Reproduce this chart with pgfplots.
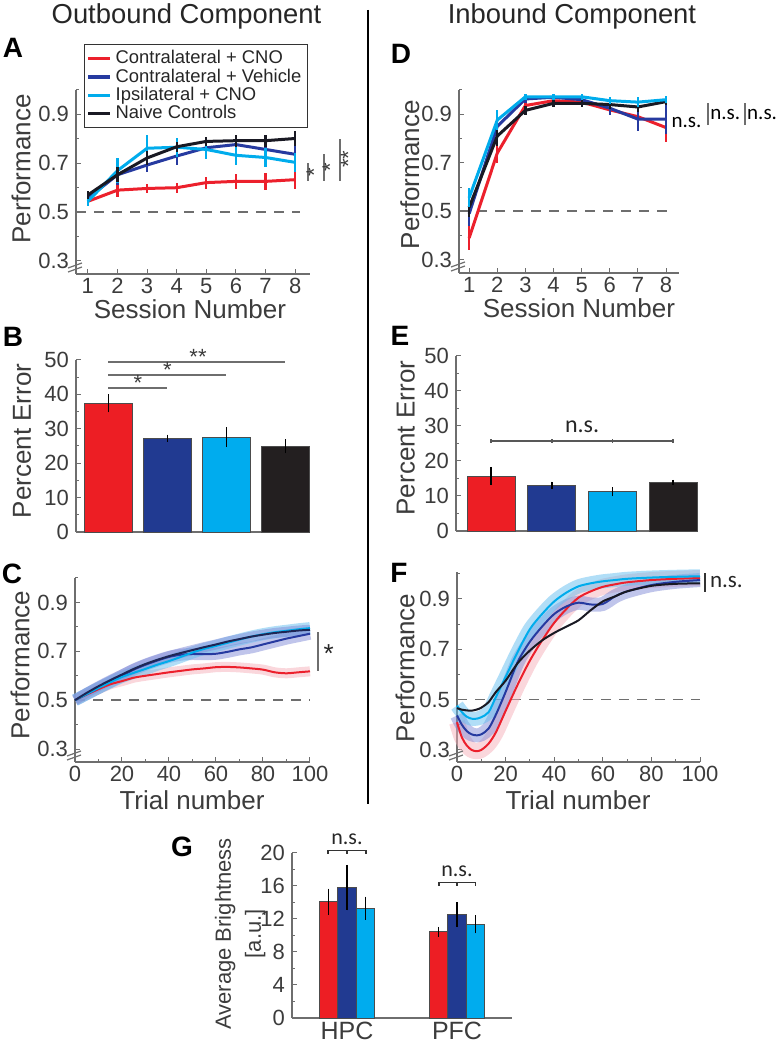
\documentclass[border=0pt]{standalone}
\usepackage{fontspec}
\setmainfont{Liberation Sans}
\newfontfamily\nsfont{Carlito}
\usepackage{pgfplots}
\usepackage{pgfplotstable}
\pgfplotsset{compat=1.18}

\definecolor{cred}{RGB}{236,32,44}
\definecolor{cblue}{RGB}{38,58,160}
\definecolor{ccyan}{RGB}{0,172,236}
\definecolor{cblack}{RGB}{25,25,35}
\definecolor{axgray}{RGB}{110,110,110}
\definecolor{txtgray}{RGB}{60,60,60}
\definecolor{bred}{RGB}{237,30,36}
\definecolor{bblue}{RGB}{33,58,145}
\definecolor{bcyan}{RGB}{0,172,238}
\definecolor{bblack}{RGB}{35,31,32}
\definecolor{bandred}{RGB}{245,175,185}
\definecolor{bandblue}{RGB}{130,140,215}
\definecolor{bandcyan}{RGB}{100,190,240}

\pgfplotstableread{
t red blue cyan black
0 0.500 0.500 0.500 0.500
5 0.523 0.525 0.525 0.530
10 0.545 0.550 0.550 0.557
15 0.565 0.575 0.573 0.582
20 0.578 0.600 0.595 0.605
25 0.592 0.625 0.612 0.628
30 0.600 0.645 0.628 0.648
35 0.607 0.662 0.645 0.665
40 0.614 0.677 0.660 0.680
45 0.620 0.686 0.677 0.693
50 0.626 0.689 0.695 0.705
55 0.630 0.688 0.710 0.717
60 0.635 0.690 0.722 0.728
65 0.636 0.698 0.735 0.740
70 0.634 0.708 0.748 0.750
75 0.630 0.716 0.760 0.760
80 0.625 0.728 0.770 0.768
85 0.614 0.740 0.778 0.775
90 0.610 0.752 0.784 0.780
95 0.614 0.762 0.790 0.785
100 0.618 0.772 0.795 0.788
}\Ctab

\pgfplotstableread{
t red blue cyan black
0 0.410 0.437 0.476 0.466
2 0.350 0.400 0.450 0.460
4 0.318 0.375 0.432 0.457
6 0.300 0.362 0.424 0.456
8 0.295 0.358 0.424 0.460
10 0.300 0.362 0.430 0.468
13 0.325 0.385 0.450 0.490
16 0.370 0.440 0.510 0.530
20 0.455 0.530 0.590 0.575
25 0.560 0.650 0.690 0.645
30 0.655 0.730 0.780 0.695
35 0.735 0.790 0.840 0.735
40 0.805 0.840 0.890 0.765
45 0.860 0.870 0.925 0.790
50 0.905 0.885 0.950 0.815
55 0.930 0.878 0.962 0.855
60 0.948 0.880 0.970 0.890
65 0.958 0.910 0.975 0.910
70 0.966 0.930 0.980 0.930
80 0.975 0.955 0.985 0.952
90 0.980 0.968 0.988 0.960
100 0.983 0.975 0.990 0.962
}\Ftab

\tikzset{brk/.style={axgray, line width=0.6pt}}
\pgfplotsset{
  panel/.style={
    scale only axis, anchor=south west, clip=false,
    axis lines*=left,
    axis line style={draw=axgray, line width=0.7pt},
    every tick/.style={draw=axgray, line width=0.5pt},
    tick align=inside,
    major tick length=2.5pt, minor tick length=1.5pt,
    tick label style={font=\fontsize{11}{12}\selectfont, text=txtgray},
    xticklabel style={yshift=1.5pt},
    label style={font=\fontsize{13}{14}\selectfont, text=txtgray},
    /pgf/number format/assume math mode=true,
    ylabel style={anchor=center},
    xlabel style={anchor=center},
  },
  perf/.style={ytick={0.3,0.5,0.7,0.9}, minor ytick={0.4,0.6,0.8,1.0},
    yticklabel style={/pgf/number format/.cd, fixed, fixed zerofill, precision=1}},
  sesline/.style={line width=1.5pt},
  eb/.style={error bars/y dir=both, error bars/y explicit, error bars/error mark=none,
    error bars/error bar style={line width=1.1pt}},
  bareb/.style={error bars/y dir=both, error bars/y explicit, error bars/error mark=none,
    error bars/error bar style={line width=0.7pt, black}},
  barst/.style={ybar, bar shift=0pt, draw=black!70, line width=0.4pt},
  chance/.style={axgray, line width=0.9pt, dash pattern=on 5pt off 4pt, forget plot},
  trialline/.style={line width=1pt, smooth, tension=0.5},
  band/.style={line width=#1, smooth, tension=0.5, opacity=0.5, forget plot},
}

\begin{document}
\begin{tikzpicture}
\useasboundingbox (0pt,0pt) rectangle (390pt,525pt);

% titles, divider, letters
\node[font=\fontsize{13.7}{15}\selectfont, text=black!85] at (93.25pt,517pt) {Outbound Component};
\node[font=\fontsize{13.7}{15}\selectfont, text=black!85] at (286pt,517pt) {Inbound Component};
\draw[black, line width=1pt] (184pt,520pt) -- (184pt,123pt);
\node[font=\fontsize{14}{15}\bfseries\selectfont] at (6.5pt,501pt) {A};
\node[font=\fontsize{14}{15}\bfseries\selectfont] at (6.5pt,356.5pt) {B};
\node[font=\fontsize{14}{15}\bfseries\selectfont] at (6pt,238pt) {C};
\node[font=\fontsize{14}{15}\bfseries\selectfont] at (200.5pt,498pt) {D};
\node[font=\fontsize{14}{15}\bfseries\selectfont] at (200pt,357pt) {E};
\node[font=\fontsize{14}{15}\bfseries\selectfont] at (199.5pt,238.5pt) {F};
\node[font=\fontsize{14}{15}\bfseries\selectfont] at (91pt,101.5pt) {G};

% ---------------- A ----------------
\begin{axis}[panel, perf, at={(38pt,388pt)}, width=117pt, height=92pt,
  xmin=0.6, xmax=8.5, ymin=0.245, ymax=1.0, xtick={1,...,8},
  ylabel={Performance}, xlabel={Session Number},
  ylabel style={at={(axis description cs:-0.235,0.571)}},
  xlabel style={at={(axis description cs:0.487,-0.19)}},
  legend style={at={(axis description cs:0.034,1.25)}, anchor=north west,
    draw=black!80, line width=0.5pt, font=\fontsize{9.2}{9.5}\selectfont,
    inner sep=1pt, row sep=-3pt, text=black!85},
  legend cell align=left,
  legend image code/.code={\draw[#1, line width=1.6pt] (0pt,0pt) -- (11pt,0pt);},
]
\addplot[chance] coordinates {(0.6,0.5) (8.17,0.5)};
\addplot[cred, sesline, eb] coordinates {(1,0.543)+-(0,0.015) (2,0.589)+-(0,0.03) (3,0.596)+-(0,0.02) (4,0.599)+-(0,0.02) (5,0.62)+-(0,0.025) (6,0.625)+-(0,0.03) (7,0.625)+-(0,0.035) (8,0.632)+-(0,0.04)};
\addlegendentry{Contralateral + CNO}
\addplot[cblue, sesline, eb] coordinates {(1,0.556)+-(0,0.02) (2,0.652)+-(0,0.04) (3,0.692)+-(0,0.03) (4,0.729)+-(0,0.035) (5,0.763)+-(0,0.03) (6,0.776)+-(0,0.03) (7,0.756)+-(0,0.035) (8,0.736)+-(0,0.035)};
\addlegendentry{Contralateral + Vehicle}
\addplot[ccyan, sesline, eb] coordinates {(1,0.543)+-(0,0.02) (2,0.669)+-(0,0.05) (3,0.761)+-(0,0.055) (4,0.765)+-(0,0.04) (5,0.756)+-(0,0.04) (6,0.732)+-(0,0.04) (7,0.723)+-(0,0.04) (8,0.703)+-(0,0.04)};
\addlegendentry{Ipsilateral + CNO}
\addplot[cblack, sesline, eb] coordinates {(1,0.569)+-(0,0.015) (2,0.652)+-(0,0.03) (3,0.721)+-(0,0.03) (4,0.767)+-(0,0.02) (5,0.789)+-(0,0.02) (6,0.792)+-(0,0.025) (7,0.792)+-(0,0.025) (8,0.801)+-(0,0.03)};
\addlegendentry{Naive Controls}
\draw[brk] ([shift={(-4pt,1pt)}]axis description cs:0,0) -- ++(7pt,2.5pt);
\draw[brk] ([shift={(-4pt,3pt)}]axis description cs:0,0) -- ++(7pt,2.5pt);
\draw[axgray, line width=0.8pt] (axis cs:8.44,0.628) -- (axis cs:8.44,0.70);
\node[font=\fontsize{11}{12}\selectfont, text=txtgray, rotate=90] at (axis cs:8.64,0.664) {*};
\draw[axgray, line width=0.8pt] (axis cs:8.98,0.628) -- (axis cs:8.98,0.736);
\node[font=\fontsize{11}{12}\selectfont, text=txtgray, rotate=90] at (axis cs:9.18,0.684) {*};
\draw[axgray, line width=0.8pt] (axis cs:9.52,0.628) -- (axis cs:9.52,0.80);
\node[font=\fontsize{11}{12}\selectfont, text=txtgray, rotate=90] at (axis cs:9.79,0.716) {**};
\end{axis}

% ---------------- D ----------------
\begin{axis}[panel, perf, at={(229.5pt,388.5pt)}, width=110pt, height=91.5pt,
  xmin=0.64, xmax=8.46, ymin=0.246, ymax=1.0, xtick={1,...,8},
  ylabel={Performance}, xlabel={Session Number},
  ylabel style={at={(axis description cs:-0.223,0.536)}},
  xlabel style={at={(axis description cs:0.545,-0.19)}},
]
\addplot[chance] coordinates {(0.64,0.5) (8.25,0.5)};
\addplot[cred, sesline, eb] coordinates {(1,0.39)+-(0,0.05) (2,0.74)+-(0,0.04) (3,0.936)+-(0,0.015) (4,0.956)+-(0,0.015) (5,0.95)+-(0,0.015) (6,0.918)+-(0,0.02) (7,0.89)+-(0,0.03) (8,0.845)+-(0,0.06)};
\addplot[cblue, sesline, eb] coordinates {(1,0.49)+-(0,0.05) (2,0.85)+-(0,0.04) (3,0.963)+-(0,0.015) (4,0.97)+-(0,0.015) (5,0.96)+-(0,0.015) (6,0.925)+-(0,0.03) (7,0.88)+-(0,0.05) (8,0.88)+-(0,0.06)};
\addplot[cblack, sesline, eb] coordinates {(1,0.516)+-(0,0.04) (2,0.81)+-(0,0.04) (3,0.916)+-(0,0.02) (4,0.945)+-(0,0.015) (5,0.945)+-(0,0.015) (6,0.94)+-(0,0.02) (7,0.93)+-(0,0.02) (8,0.952)+-(0,0.015)};
\addplot[ccyan, sesline, eb] coordinates {(1,0.556)+-(0,0.04) (2,0.876)+-(0,0.04) (3,0.972)+-(0,0.012) (4,0.972)+-(0,0.012) (5,0.972)+-(0,0.012) (6,0.956)+-(0,0.015) (7,0.95)+-(0,0.02) (8,0.96)+-(0,0.015)};
\draw[brk] ([shift={(-4pt,1pt)}]axis description cs:0,0) -- ++(7pt,2.5pt);
\draw[brk] ([shift={(-4pt,3pt)}]axis description cs:0,0) -- ++(7pt,2.5pt);
\node[font=\nsfont\fontsize{10.5}{11}\selectfont, anchor=west, inner sep=0pt] at (axis cs:8.18,0.867) {n.s.};
\draw[axgray, line width=0.8pt] (axis cs:9.49,0.855) -- (axis cs:9.49,0.945);
\node[font=\nsfont\fontsize{10.5}{11}\selectfont, anchor=west, inner sep=0pt] at (axis cs:9.56,0.9) {n.s.};
\draw[axgray, line width=0.8pt] (axis cs:10.8,0.855) -- (axis cs:10.8,0.945);
\node[font=\nsfont\fontsize{10.5}{11}\selectfont, anchor=west, inner sep=0pt] at (axis cs:10.87,0.9) {n.s.};
\end{axis}

% ---------------- B ----------------
\begin{axis}[panel, at={(38pt,259pt)}, width=117pt, height=86pt,
  xmin=0.45, xmax=4.42, ymin=0, ymax=50, ytick={0,10,...,50}, minor y tick num=1,
  xtick=\empty, ylabel={Percent Error},
  ylabel style={at={(axis description cs:-0.231,0.529)}},
]
\addplot[barst, bar width=23.75pt, fill=bred, bareb] coordinates {(1,37.4)+-(0,2.6)};
\addplot[barst, bar width=23.75pt, fill=bblue, bareb] coordinates {(2,27.3)+-(0,1.0)};
\addplot[barst, bar width=23.75pt, fill=bcyan, bareb] coordinates {(3,27.6)+-(0,2.8)};
\addplot[barst, bar width=23.75pt, fill=bblack, bareb] coordinates {(4,24.9)+-(0,2.0)};
\draw[axgray, line width=0.9pt] (axis cs:1,41.8) -- (axis cs:2,41.8);
\draw[axgray, line width=0.9pt] (axis cs:1,45.6) -- (axis cs:3,45.6);
\draw[axgray, line width=0.9pt] (axis cs:1,49.5) -- (axis cs:4,49.5);
\node[font=\fontsize{11}{12}\selectfont, text=txtgray] at (axis cs:1.5,43.2) {*};
\node[font=\fontsize{11}{12}\selectfont, text=txtgray] at (axis cs:2.0,47.0) {*};
\node[font=\fontsize{11}{12}\selectfont, text=txtgray] at (axis cs:2.52,50.9) {**};
\end{axis}

% ---------------- E ----------------
\begin{axis}[panel, at={(228pt,259.5pt)}, width=121pt, height=87.5pt,
  xmin=0.42, xmax=4.41, ymin=0, ymax=50, ytick={0,10,...,50}, minor y tick num=1,
  xtick=\empty, ylabel={Percent Error},
  ylabel style={at={(axis description cs:-0.207,0.531)}},
]
\addplot[barst, bar width=24pt, fill=bred, bareb] coordinates {(1,15.7)+-(0,2.6)};
\addplot[barst, bar width=24pt, fill=bblue, bareb] coordinates {(2,13.1)+-(0,1.0)};
\addplot[barst, bar width=24pt, fill=bcyan, bareb] coordinates {(3,11.2)+-(0,1.3)};
\addplot[barst, bar width=24pt, fill=bblack, bareb] coordinates {(4,13.8)+-(0,0.8)};
\draw[axgray!80!black, line width=0.9pt] (axis cs:1,25.8) -- (axis cs:4,25.8);
\draw[axgray!80!black, line width=0.7pt] (axis cs:1,25.2) -- (axis cs:1,26.4);
\draw[axgray!80!black, line width=0.7pt] (axis cs:2,25.2) -- (axis cs:2,26.4);
\draw[axgray!80!black, line width=0.7pt] (axis cs:3,25.2) -- (axis cs:3,26.4);
\draw[axgray!80!black, line width=0.7pt] (axis cs:4,25.2) -- (axis cs:4,26.4);
\node[font=\nsfont\fontsize{12}{13}\selectfont, text=black!85] at (axis cs:2.5,29.9) {n.s.};
\end{axis}

% ---------------- C ----------------
\begin{axis}[panel, perf, at={(37.5pt,144pt)}, width=117.5pt, height=92pt,
  xmin=0, xmax=100, ymin=0.247, ymax=1.0, xtick={0,20,...,100}, minor x tick num=1,
  ylabel={Performance}, xlabel={Trial number},
  ylabel style={at={(axis description cs:-0.234,0.527)}},
  xlabel style={at={(axis description cs:0.498,-0.207)}},
]
\addplot[chance] coordinates {(0,0.5) (100,0.5)};
\addplot[bandred, band=5pt] table[x=t, y=red] {\Ctab};
\addplot[bandblue, band=6pt] table[x=t, y=blue] {\Ctab};
\addplot[bandcyan, band=6pt] table[x=t, y=cyan] {\Ctab};
\addplot[bandblue, band=5pt] table[x=t, y=black] {\Ctab};
\addplot[cred, trialline] table[x=t, y=red] {\Ctab};
\addplot[cblue, trialline] table[x=t, y=blue] {\Ctab};
\addplot[ccyan, trialline] table[x=t, y=cyan] {\Ctab};
\addplot[cblack!60!cblue, trialline] table[x=t, y=black] {\Ctab};
\draw[brk] ([shift={(-4pt,1pt)}]axis description cs:0,0) -- ++(7pt,2.5pt);
\draw[brk] ([shift={(-4pt,3pt)}]axis description cs:0,0) -- ++(7pt,2.5pt);
\draw[axgray, line width=0.8pt] (axis cs:103.4,0.62) -- (axis cs:103.4,0.778);
\node[font=\fontsize{13}{14}\selectfont, text=black!85] at (axis cs:108,0.69) {*};
\end{axis}

% ---------------- F ----------------
\begin{axis}[panel, perf, at={(228.5pt,144pt)}, width=121.5pt, height=95pt,
  xmin=0, xmax=100, ymin=0.252, ymax=1.007, xtick={0,20,...,100}, minor x tick num=1,
  ylabel={Performance}, xlabel={Trial number},
  ylabel style={at={(axis description cs:-0.214,0.495)}},
  xlabel style={at={(axis description cs:0.498,-0.2)}},
]
\addplot[chance] coordinates {(0,0.5) (100,0.5)};
\addplot[bandred, band=8pt] table[x=t, y=red] {\Ftab};
\addplot[bandblue, band=7pt] table[x=t, y=blue] {\Ftab};
\addplot[bandcyan, band=7pt] table[x=t, y=cyan] {\Ftab};
\addplot[cred, trialline] table[x=t, y=red] {\Ftab};
\addplot[cblue, trialline] table[x=t, y=blue] {\Ftab};
\addplot[ccyan, trialline] table[x=t, y=cyan] {\Ftab};
\addplot[cblack, trialline] table[x=t, y=black] {\Ftab};
\draw[brk] ([shift={(-4pt,1pt)}]axis description cs:0,0) -- ++(7pt,2.5pt);
\draw[brk] ([shift={(-4pt,3pt)}]axis description cs:0,0) -- ++(7pt,2.5pt);
\draw[black!80, line width=0.8pt] (axis cs:102,0.928) -- (axis cs:102,1.003);
\node[font=\nsfont\fontsize{11.5}{12}\selectfont, anchor=west, inner sep=0pt, text=black!85] at (axis cs:104,0.966) {n.s.};
\end{axis}

% ---------------- G ----------------
\begin{axis}[panel, at={(146pt,16pt)}, width=110pt, height=82.5pt,
  xmin=0.5, xmax=2.5, ymin=0, ymax=20, ytick={0,4,...,20}, minor y tick num=1,
  xtick={1,2}, xticklabels={HPC,PFC}, major x tick style={draw=none},
  xticklabel style={font=\fontsize{12.5}{13}\selectfont},
  ylabel={Average Brightness\\{[a.u.]}},
  ylabel style={align=center, font=\fontsize{11}{15}\selectfont, at={(axis description cs:-0.236,0.51)}},
]
\addplot[barst, bar width=9.15pt, fill=bred, bareb] coordinates {(0.8336,14.08)+-(0,1.6) (1.8336,10.46)+-(0,0.6)};
\addplot[barst, bar width=9.15pt, fill=bblue, bareb] coordinates {(1,15.8)+-(0,2.75) (2,12.5)+-(0,1.5)};
\addplot[barst, bar width=9.15pt, fill=bcyan, bareb] coordinates {(1.1664,13.3)+-(0,1.4) (2.1664,11.35)+-(0,1.1)};
\draw[black!80, line width=0.8pt] (axis cs:0.826,19.9) -- (axis cs:0.826,20.3) -- (axis cs:1.174,20.3) -- (axis cs:1.174,19.9);
\draw[black!80, line width=0.8pt] (axis cs:1,19.9) -- (axis cs:1,20.3);
\node[font=\nsfont\fontsize{11}{12}\selectfont, text=black!85] at (axis cs:1,21.7) {n.s.};
\draw[black!80, line width=0.8pt] (axis cs:1.835,16.0) -- (axis cs:1.835,16.4) -- (axis cs:2.17,16.4) -- (axis cs:2.17,16.0);
\draw[black!80, line width=0.8pt] (axis cs:2,16.0) -- (axis cs:2,16.4);
\node[font=\nsfont\fontsize{11}{12}\selectfont, text=black!85] at (axis cs:2,17.8) {n.s.};
\end{axis}
\end{tikzpicture}
\end{document}
